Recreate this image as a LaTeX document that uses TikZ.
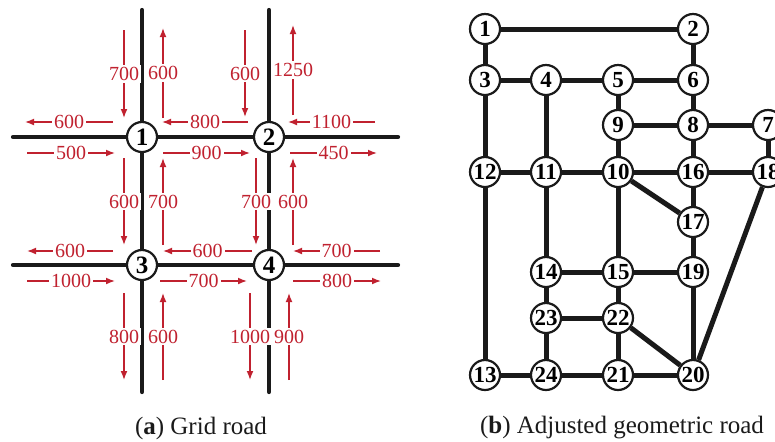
\documentclass[tikz,border=0pt]{standalone}
\usepackage{fontspec}
\setmainfont{Liberation Serif}
\usetikzlibrary{arrows.meta,backgrounds}
\definecolor{ink}{HTML}{1A1A1A}
\definecolor{flowred}{HTML}{C0212F}
\tikzset{
  road/.style={draw=ink,line width=2.1pt,line cap=round},
  link/.style={draw=ink,line width=2.5pt},
  gnode/.style={circle,draw=ink,line width=1.1pt,fill=white,minimum size=15pt,inner sep=0pt,font=\bfseries\fontsize{12.5}{13}\selectfont},
  rnode/.style={gnode,font=\bfseries\fontsize{11.5}{12}\selectfont},
  flow/.style={-{Latex[length=4.5pt,width=3.4pt]},draw=flowred,line width=.6pt},
  flab/.style={fill=white,inner sep=1pt,text=flowred,font=\fontsize{10}{11}\selectfont},
  subcap/.style={font=\fontsize{12.5}{14}\selectfont,text=ink},
}
\begin{document}
\begin{tikzpicture}[x=.5pt,y=-.5pt]
  \useasboundingbox (0,0) rectangle (775,441);
  % (a) grid road
  \node[gnode] (n1) at (142,137) {1};
  \node[gnode] (n2) at (269,137) {2};
  \node[gnode] (n3) at (142,265) {3};
  \node[gnode] (n4) at (269,265) {4};
  \coordinate (v1t) at (142,10);  \coordinate (v1b) at (142,392);
  \coordinate (v2t) at (269,10);  \coordinate (v2b) at (269,392);
  \coordinate (h1l) at (13,137);  \coordinate (h1r) at (398,137);
  \coordinate (h2l) at (13,265);  \coordinate (h2r) at (398,265);
  \begin{scope}[on background layer]
    \draw[road] (v1t) -- (n1) -- (n3) -- (v1b);
    \draw[road] (v2t) -- (n2) -- (n4) -- (v2b);
    \draw[road] (h1l) -- (n1) -- (n2) -- (h1r);
    \draw[road] (h2l) -- (n3) -- (n4) -- (h2r);
  \end{scope}
  \foreach \x/\ya/\yb/\l in {124/30/118/700,163/118/28/600,245/30/117/600,293/115/25/1250,
                              124/158/245/600,163/245/158/700,256/158/245/700,293/245/158/600,
                              124/293/380/800,163/380/293/600,250/293/380/1000,289/380/293/900} {
    \draw[flow] (\x,\ya) -- node[flab]{\l} (\x,\yb);
  }
  \foreach \y/\xa/\xb/\l in {122/113/25/600,122/248/162/800,122/375/288/1100,
                              153/27/115/500,153/163/250/900,153/290/377/450,
                              251/113/27/600,251/252/163/600,251/380/293/700,
                              281/27/115/1000,281/160/247/700,281/293/381/800} {
    \draw[flow] (\xa,\y) -- node[flab]{\l} (\xb,\y);
  }
  % (b) adjusted geometric road
  \foreach \n/\x/\y in {1/485/29,2/693/29,3/485/80,4/546/80,5/618/80,6/693/80,
                        9/618/125,8/693/125,7/768/125,12/485/172,11/546/172,10/618/172,
                        16/693/172,18/768/172,17/693/222,14/546/272,15/618/272,19/693/272,
                        23/546/318,22/618/318,13/485/375,24/546/375,21/618/375,20/693/375} {
    \node[rnode] (r\n) at (\x,\y) {\n};
  }
  \foreach \a/\b in {1/2,1/3,2/6,3/4,4/5,5/6,3/12,4/11,5/9,6/8,9/8,8/7,9/10,8/16,7/18,
                     12/11,11/10,10/16,16/18,10/17,16/17,12/13,11/14,10/15,17/19,
                     14/15,15/19,14/23,15/22,19/20,23/22,22/20,23/24,22/21,
                     13/24,24/21,21/20,18/20} {
    \draw[link] (r\a) -- (r\b);
  }
  \node[subcap] (capa) at (201,428) {(\textbf{a}) Grid road};
  \node[subcap] (capb) at (622,428) {(\textbf{b}) Adjusted geometric road};
\end{tikzpicture}
\end{document}
